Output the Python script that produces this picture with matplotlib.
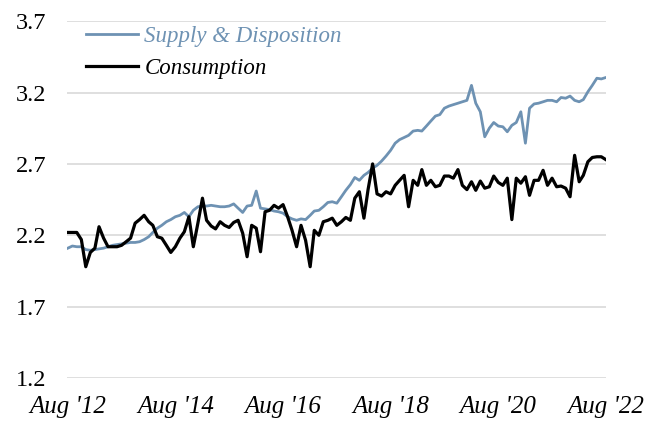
import matplotlib
matplotlib.use("Agg")
from matplotlib import pyplot as plt
import numpy as np
import pandas as pd

dates = pd.date_range("2012-08-01", periods=121, freq="MS")

supply = [2.11, 2.125, 2.12, 2.12, 2.10, 2.095, 2.10, 2.105, 2.11, 2.12, 2.13,
          2.135, 2.14, 2.145, 2.15, 2.15, 2.155, 2.17, 2.19, 2.22, 2.25,
          2.27, 2.295, 2.31, 2.33, 2.34, 2.36, 2.33, 2.375, 2.40, 2.405, 2.405,
          2.41, 2.405, 2.40, 2.40, 2.405, 2.42, 2.39, 2.36, 2.405, 2.41,
          2.51,
          2.39, 2.385, 2.38, 2.37, 2.365, 2.355, 2.33, 2.315, 2.305, 2.315, 2.31,
          2.34, 2.37, 2.375, 2.40, 2.43, 2.435, 2.425, 2.47, 2.515, 2.555,
          2.605, 2.585, 2.62, 2.64, 2.67, 2.69, 2.72, 2.755, 2.795, 2.845, 2.87,
          2.885, 2.90, 2.93, 2.935, 2.93, 2.965, 3.00, 3.035, 3.045, 3.09,
          3.105, 3.115, 3.125, 3.135, 3.145, 3.25, 3.125, 3.065, 2.89, 2.95,
          2.99, 2.965, 2.96, 2.925, 2.97, 2.99, 3.065, 2.845, 3.09,
          3.12, 3.125, 3.135, 3.145, 3.145, 3.135, 3.165, 3.16, 3.175, 3.145,
          3.135, 3.15, 3.205, 3.25, 3.30, 3.295, 3.305]

consumption = [2.22, 2.22, 2.22, 2.17, 1.98, 2.08, 2.11, 2.26, 2.18, 2.12, 2.12,
               2.12, 2.13, 2.155, 2.18, 2.285, 2.31, 2.34, 2.295, 2.27, 2.19,
               2.18, 2.13, 2.08, 2.12, 2.18, 2.225, 2.33, 2.12, 2.285, 2.46,
               2.305, 2.265, 2.245, 2.295, 2.27, 2.255, 2.29, 2.305, 2.215, 2.05,
               2.27,
               2.25, 2.085, 2.365, 2.375, 2.41, 2.39, 2.415, 2.33, 2.235, 2.12,
               2.27, 2.165, 1.98, 2.235, 2.20, 2.295, 2.305, 2.32, 2.27, 2.295,
               2.325, 2.305,
               2.46, 2.505, 2.32, 2.52, 2.70, 2.49, 2.475, 2.505, 2.49, 2.55,
               2.585, 2.62, 2.40, 2.585, 2.55, 2.66, 2.55, 2.585, 2.54, 2.55,
               2.615,
               2.615, 2.60, 2.66, 2.55, 2.52, 2.575, 2.515, 2.58, 2.53, 2.54,
               2.615, 2.57, 2.55, 2.60, 2.31, 2.60, 2.565, 2.61, 2.48,
               2.585, 2.585, 2.655, 2.55, 2.60, 2.54, 2.545, 2.53, 2.47, 2.76,
               2.575, 2.62, 2.715, 2.745, 2.75, 2.75, 2.73]

yticks = [1.2, 1.7, 2.2, 2.7, 3.2, 3.7]
xtick_dates = pd.to_datetime(["2012-08-01", "2014-08-01", "2016-08-01",
                              "2018-08-01", "2020-08-01", "2022-08-01"])
xtick_labels = ["Aug '12", "Aug '14", "Aug '16", "Aug '18", "Aug '20", "Aug '22"]

blue = '#6E92B3'
plt.rcParams['font.family'] = ['Liberation Serif', 'DejaVu Serif']

fig = plt.figure(figsize=(6.56, 4.22), dpi=100)
ax = fig.add_axes([0.102, 0.104, 0.822, 0.846])

ax.plot(dates, supply, color=blue, linewidth=2.0, label='Supply & Disposition')
ax.plot(dates, consumption, color='k', linewidth=2.3, label='Consumption')

ax.set_ylim(1.2, 3.7)
ax.set_yticks(yticks)
ax.set_yticklabels([f"{v:.1f}" for v in yticks], fontsize=17.5)
ax.set_xlim(dates[0] - pd.Timedelta(days=6), dates[-1] + pd.Timedelta(days=2))
ax.set_xticks(xtick_dates)
ax.set_xticklabels(xtick_labels, fontsize=18, style='italic')
ax.tick_params(length=0)
ax.tick_params(axis='y', pad=15)
ax.tick_params(axis='x', pad=13)

ax.grid(axis='y', color='#d9d9d9', linewidth=1.2)
ax.set_axisbelow(True)
for s in ax.spines.values():
    s.set_visible(False)

leg = ax.legend(loc='upper left', bbox_to_anchor=(0.01, 1.025), frameon=False,
                prop={'size': 16.5, 'style': 'italic'}, handlelength=2.25,
                handletextpad=0.3, labelspacing=0.5, borderaxespad=0.2)
for txt, c in zip(leg.get_texts(), [blue, 'k']):
    txt.set_color(c)

plt.savefig('out.png', dpi=100)
